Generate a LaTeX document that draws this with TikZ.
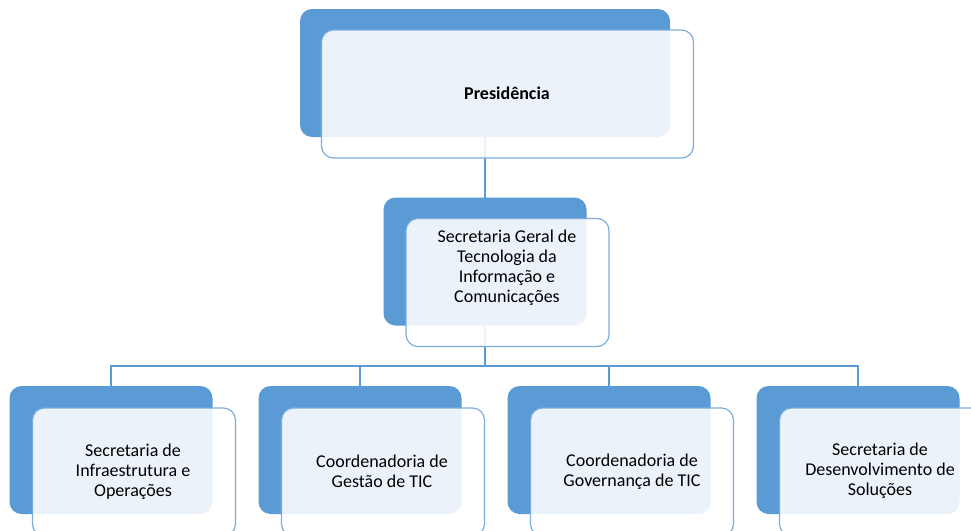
\documentclass[tikz,border=0pt]{standalone}
\usepackage{fontspec}
\setmainfont{Carlito}
\definecolor{accent}{HTML}{5B9BD5}
\definecolor{framec}{HTML}{7AADDC}
\begin{document}
\begin{tikzpicture}[x=1pt,y=-1pt,
  backbox/.style={rectangle, rounded corners=12pt, fill=accent, draw=none,
    minimum width=#1, minimum height=128pt, inner sep=0pt, outer sep=0pt},
  backbox/.default=203pt,
  frontbox/.style={rectangle, rounded corners=12pt, fill=white, fill opacity=0.88,
    draw=framec, line width=1.2pt, minimum width=#1, minimum height=128pt,
    inner sep=0pt, outer sep=0pt},
  frontbox/.default=203pt,
  link/.style={draw=accent, line width=1.3pt},
  label/.style={font=\fontsize{18}{20}\selectfont, align=center, text=black, inner sep=0pt}
]
\clip (0,0) rectangle (971,530);
\fill[white] (0,0) rectangle (971,530);
% back boxes
\node[backbox=370pt] (pb) at (485,73) {};
\node[backbox] (sb) at (485,261.5) {};
\node[backbox] (b1) at (111,450) {};
\node[backbox] (b2) at (360,450) {};
\node[backbox] (b3) at (609,450) {};
\node[backbox] (b4) at (858,450) {};
% connectors
\draw[link] (pb.south) -- (sb.north);
\draw[link] (b1.north) -- ++(0,-20) -| (sb.south);
\draw[link] (b2.north) -- ++(0,-20) -| (sb.south);
\draw[link] (b3.north) -- ++(0,-20) -| (sb.south);
\draw[link] (b4.north) -- ++(0,-20) -| (sb.south);
% front boxes
\node[frontbox=372pt] (pf) at (507.5,94) {};
\node[frontbox] (sf) at (507.5,282.5) {};
\node[frontbox] (f1) at (134,472) {};
\node[frontbox] (f2) at (383,472) {};
\node[frontbox] (f3) at (632,472) {};
\node[frontbox] (f4) at (881,472) {};
% texts
\node[label, font=\fontsize{18}{20}\selectfont\bfseries] (tp) at (507,93) {Presidência};
\node[label] (ts) at (507,268) {Secretaria Geral de\\Tecnologia da\\Informação e\\Comunicações};
\node[label] (t1) at (133,471.5) {Secretaria de\\Infraestrutura e\\Operações};
\node[label] (t2) at (382,471.5) {Coordenadoria de\\Gestão de TIC};
\node[label] (t3) at (632,471.5) {Coordenadoria de\\Governança de TIC};
\node[label] (t4) at (880,471) {Secretaria de\\Desenvolvimento de\\Soluções};
\end{tikzpicture}
\end{document}
